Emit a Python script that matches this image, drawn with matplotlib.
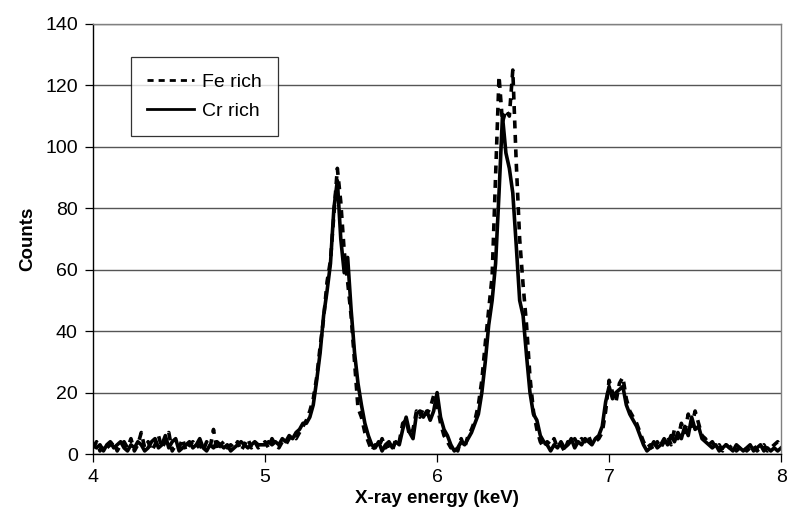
import numpy as np
import matplotlib
matplotlib.use("Agg")
import matplotlib.pyplot as plt

# spectrum channels: 4.00 .. 8.00 keV, 0.02 keV apart
energy_start = 4.0
energy_step = 0.02

fe_rich = [
    2, 4, 1, 3, 2, 3, 4, 1, 3, 4, 2, 5, 1, 3, 7, 2, 4, 1, 3, 6,
    2, 4, 7, 1, 3, 2, 5, 1, 3, 4, 2, 3, 1, 4, 2, 8, 1, 3, 4, 2,
    3, 2, 4, 1, 3, 5, 2, 4, 2, 3,
    4, 2, 5, 3, 2, 4, 3, 5, 6, 5, 7, 9, 11, 14, 18, 25, 35, 44, 56, 63,
    78, 93, 82, 66, 56, 45, 30, 15, 12, 7, 4, 1, 3, 2, 5, 2, 3, 1, 5, 4,
    10, 11, 6, 8, 14, 12, 15, 13, 15, 19,
    16, 10, 6, 4, 2, 3, 1, 5, 2, 6, 8, 11, 16, 24, 36, 47, 58, 90, 123, 108,
    112, 110, 125, 95, 70, 55, 42, 25, 14, 8, 4, 2, 4, 3, 5, 2, 3, 1, 4, 3,
    5, 3, 5, 4, 6, 3, 4, 5, 7, 14,
    24, 20, 17, 23, 25, 18, 14, 12, 10, 7, 4, 2, 3, 1, 4, 2, 4, 6, 3, 8,
    5, 10, 7, 13, 9, 14, 10, 6, 5, 3, 4, 2, 3, 1, 3, 2, 3, 1, 2, 3,
    1, 2, 3, 1, 2, 3, 1, 2, 3, 4, 2,
]

cr_rich = [
    3, 2, 3, 1, 3, 4, 2, 3, 4, 2, 1, 3, 2, 4, 3, 1, 2, 4, 5, 2,
    3, 6, 2, 4, 5, 1, 2, 3, 4, 2, 3, 5, 2, 1, 3, 2, 4, 3, 2, 3,
    1, 2, 3, 4, 3, 2, 3, 4, 3, 3,
    3, 4, 3, 4, 3, 5, 4, 6, 5, 7, 8, 10, 10, 12, 16, 24, 33, 45, 53, 62,
    80, 89, 70, 59, 64, 47, 33, 23, 16, 10, 6, 3, 2, 4, 1, 3, 4, 2, 4, 3,
    8, 12, 7, 5, 13, 14, 12, 14, 11, 14,
    20, 12, 8, 6, 3, 1, 2, 4, 3, 5, 7, 10, 13, 20, 30, 42, 50, 62, 85, 110,
    98, 93, 85, 68, 50, 45, 32, 20, 13, 11, 6, 4, 3, 1, 3, 2, 4, 2, 3, 5,
    2, 4, 3, 5, 4, 3, 5, 6, 9, 17,
    22, 18, 20, 21, 22, 16, 13, 11, 9, 6, 3, 1, 2, 4, 2, 3, 5, 3, 6, 4,
    7, 5, 9, 6, 12, 8, 9, 5, 4, 3, 2, 3, 1, 2, 3, 2, 1, 3, 2, 1,
    2, 3, 1, 2, 3, 1, 2, 1, 2, 1, 2,
]

x_ticks = [4, 5, 6, 7, 8]
y_ticks = [0, 20, 40, 60, 80, 100, 120, 140]

energy = energy_start + energy_step * np.arange(len(cr_rich))

plt.rcParams["font.family"] = ["Liberation Sans", "DejaVu Sans"]
fig = plt.figure(figsize=(7.89, 5.27), dpi=100)
ax = fig.add_axes([0.118, 0.1385, 0.872, 0.816])

ax.plot(energy, fe_rich, color="black", lw=2.6, ls=(0, (2.2, 1.8)), label="Fe rich")
ax.plot(energy, cr_rich, color="black", lw=2.6, label="Cr rich")

ax.set_xlim(4, 8)
ax.set_ylim(0, 140)
ax.set_xticks(x_ticks)
ax.set_yticks(y_ticks)
ax.tick_params(labelsize=14, length=6, width=0.9, direction="out", pad=5)
ax.yaxis.grid(True, color="#555555", lw=1.0)
ax.set_axisbelow(True)
for side in ("top", "right"):
    ax.spines[side].set_color("#808080")
    ax.spines[side].set_linewidth(1.0)
for side in ("left", "bottom"):
    ax.spines[side].set_color("black")
    ax.spines[side].set_linewidth(1.0)

ax.set_xlabel("X-ray energy (keV)", fontsize=13.5, fontweight="bold", labelpad=3)
ax.set_ylabel("Counts", fontsize=13.5, fontweight="bold", labelpad=6)

leg = ax.legend(loc="upper left", bbox_to_anchor=(0.055, 0.923), borderaxespad=0,
                fontsize=14, frameon=True, fancybox=False, edgecolor="black",
                handlelength=2.4, handletextpad=0.4, labelspacing=0.55,
                borderpad=0.85)
leg.get_frame().set_linewidth(0.9)
for line in leg.get_lines():
    line.set_linewidth(2.0)

fig.savefig("out.png", dpi=100)
